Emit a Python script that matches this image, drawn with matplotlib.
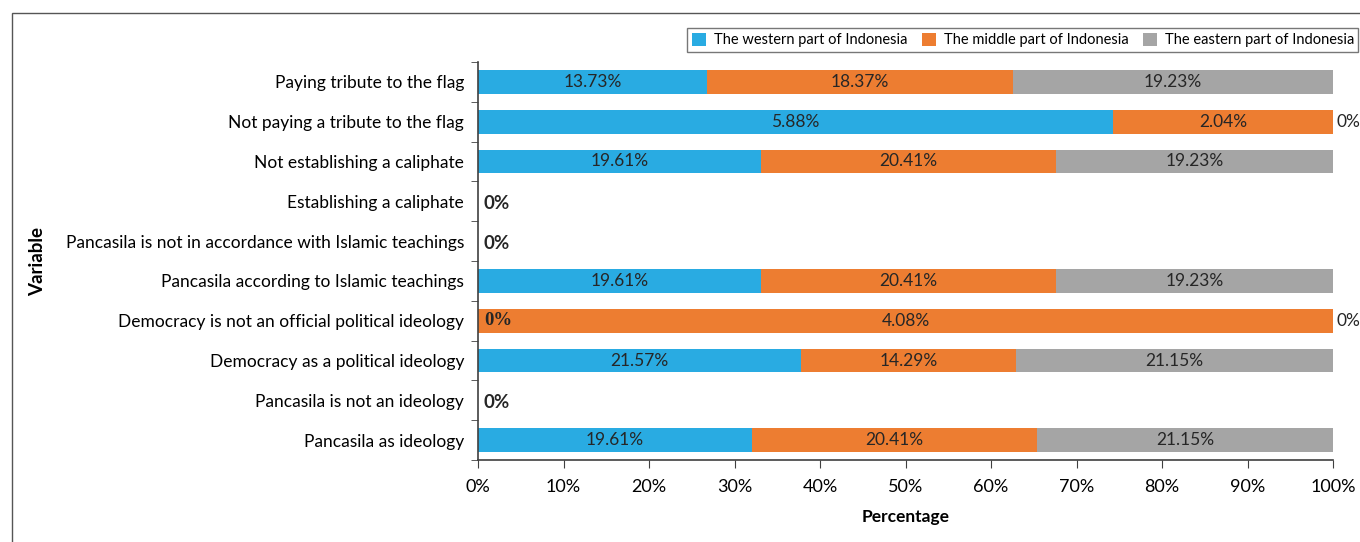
import numpy as np
import matplotlib.pyplot as plt
from matplotlib.patches import Rectangle

plt.rcParams['font.family'] = ['Lato', 'DejaVu Sans']

# categories from top to bottom
categories = [
    "Paying tribute to the flag",
    "Not paying a tribute to the flag",
    "Not establishing a caliphate",
    "Establishing a caliphate",
    "Pancasila is not in accordance with Islamic teachings",
    "Pancasila according to Islamic teachings",
    "Democracy is not an official political ideology",
    "Democracy as a political ideology",
    "Pancasila is not an ideology",
    "Pancasila as ideology",
]
western = [13.73, 5.88, 19.61, 0, 0, 19.61, 0, 21.57, 0, 19.61]
middle = [18.37, 2.04, 20.41, 0, 0, 20.41, 4.08, 14.29, 0, 20.41]
eastern = [19.23, 0, 19.23, 0, 0, 19.23, 0, 21.15, 0, 21.15]
series_names = ["The western part of Indonesia", "The middle part of Indonesia",
                "The eastern part of Indonesia"]
colors = ["#29abe2", "#ed7d31", "#a5a5a5"]
x_ticks = [0, 10, 20, 30, 40, 50, 60, 70, 80, 90, 100]

fig = plt.figure(figsize=(13.6, 5.42), dpi=100)
ax = fig.add_axes([478 / 1360, 1 - 460 / 542, (1333 - 478) / 1360, (460 - 62) / 542])

# outer frame (cut at right and bottom like the reference)
fig.patches.append(Rectangle((12 / 1360, -0.1), 1.2, 1 - 13 / 542 + 0.1,
                             transform=fig.transFigure, fill=False,
                             edgecolor="#555555", lw=1.0))

vals = np.array([western, middle, eastern])
totals = vals.sum(axis=0)
shares = np.divide(vals, totals, out=np.zeros_like(vals), where=totals > 0) * 100
ypos = np.arange(len(categories))[::-1]
txt = "#262626"

left = np.zeros(len(categories))
for k in range(3):
    ax.barh(ypos, shares[k], left=left, height=0.6, color=colors[k],
            label=series_names[k])
    for i in range(len(categories)):
        if totals[i] > 0 and shares[k][i] > 0:
            ax.text(left[i] + shares[k][i] / 2, ypos[i], f"{vals[k][i]:.2f}%",
                    ha="center", va="center", fontsize=12.5, color=txt)
    left += shares[k]

# zero labels
for i in range(len(categories)):
    if totals[i] == 0:
        ax.text(0.7, ypos[i] - 0.05, "0%", ha="left", va="center", fontsize=13.5,
                fontweight="bold", color=txt)
    else:
        if vals[2][i] == 0:
            ax.text(100.4, ypos[i], "0%", ha="left", va="center", fontsize=12.5,
                    color=txt, clip_on=False)
        if vals[0][i] == 0:
            ax.text(0.7, ypos[i], "0%", ha="left", va="center", fontsize=13.5,
                    fontweight="bold", color=txt, family="Liberation Serif")

ax.set_xlim(0, 100)
ax.set_ylim(-0.5, len(categories) - 0.5)
ax.set_xticks(x_ticks)
ax.set_xticklabels([f"{t}%" for t in x_ticks], fontsize=13)
ax.set_yticks(ypos)
ax.set_yticklabels(categories, fontsize=12.5)
ax.set_yticks(np.arange(-0.5, len(categories), 1), minor=True)
ax.tick_params(axis="y", which="major", length=0, pad=10)
ax.tick_params(axis="y", which="minor", length=5, direction="out", color="#404040")
ax.tick_params(axis="x", length=6, direction="out", color="#404040", pad=8)
for s in ["top", "right"]:
    ax.spines[s].set_visible(False)
for s in ["left", "bottom"]:
    ax.spines[s].set_color("#404040")
    ax.spines[s].set_linewidth(1.2)

ax.set_xlabel("Percentage", fontsize=12.5, fontweight="bold", labelpad=10)
fig.text(38 / 1360, 1 - 262 / 542, "Variable", rotation=90, ha="center",
         va="center", fontsize=13.5, fontweight="bold")

leg = fig.legend(loc="upper left", bbox_to_anchor=(680 / 1360, 1 - 21 / 542),
                 ncol=3, fontsize=10.5, frameon=True, fancybox=False,
                 handlelength=1.0, handleheight=1.0, handletextpad=0.5,
                 columnspacing=1.0, borderpad=0.3)
leg.get_frame().set_edgecolor("#555555")
leg.get_frame().set_linewidth(1.0)

fig.savefig("out.png", dpi=100)
